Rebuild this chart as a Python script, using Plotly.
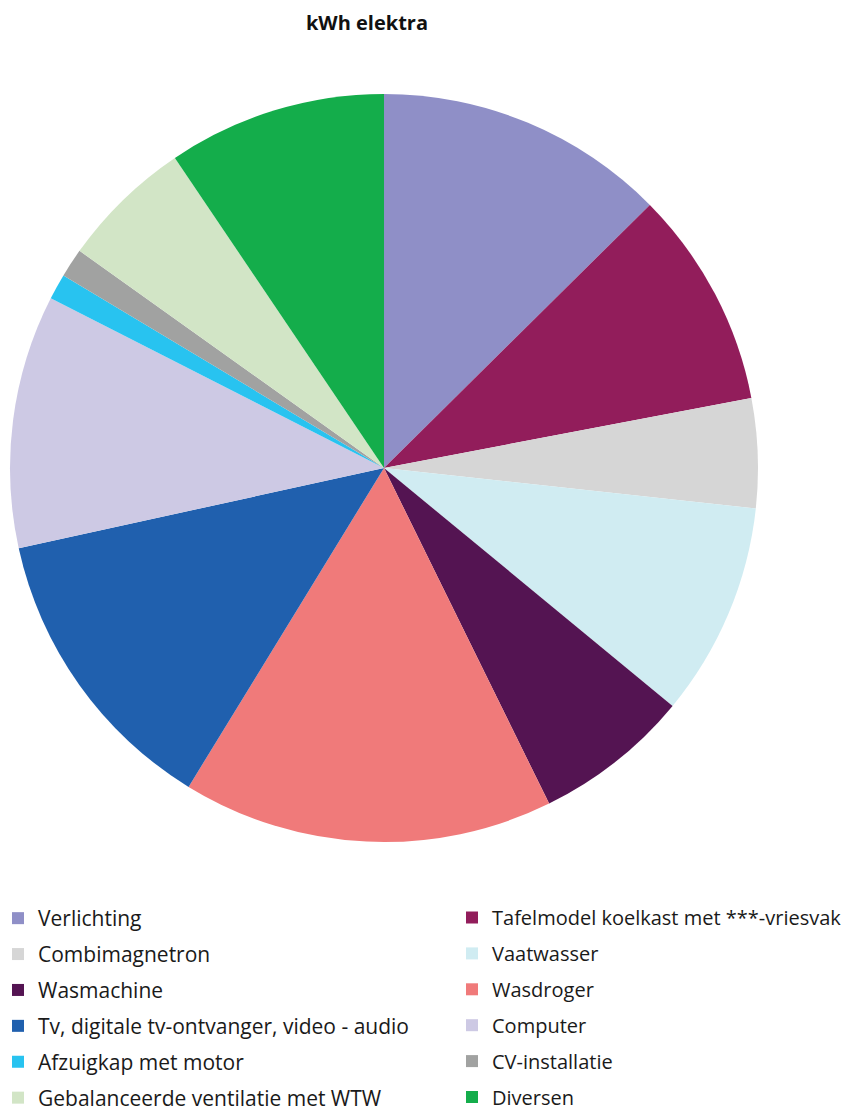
import plotly.graph_objects as go

categories = [
    "Verlichting",
    "Tafelmodel koelkast met ***-vriesvak",
    "Combimagnetron",
    "Vaatwasser",
    "Wasmachine",
    "Wasdroger",
    "Tv, digitale tv-ontvanger, video - audio",
    "Computer",
    "Afzuigkap met motor",
    "CV-installatie",
    "Gebalanceerde ventilatie met WTW",
    "Diversen",
]
kwh = [453, 339, 170, 333, 243, 577, 461, 394, 40, 45, 205, 340]
colors = [
    "#8F8FC7", "#921D5B", "#D6D6D6", "#D0ECF2", "#541452", "#F07A7A",
    "#2060AE", "#CDC9E4", "#28C3F0", "#A1A2A1", "#D2E5C6", "#14AD4B",
]

# The page body has an 8px default margin, so the figure is 16px smaller than the window
W, H = 845, 1105
cx, cy, r = 376, 460, 374

fig = go.Figure()
fig.add_trace(go.Pie(
    labels=categories,
    values=kwh,
    marker=dict(colors=colors, line=dict(width=0)),
    sort=False,
    direction="clockwise",
    rotation=0,
    textinfo="none",
    hoverinfo="label+value+percent",
    showlegend=False,
    domain=dict(x=[(cx - r) / W, (cx + r) / W], y=[1 - (cy + r) / H, 1 - (cy - r) / H]),
))

# Legend entries (two columns: left, right, left, right ...)
for i, (lab, col) in enumerate(zip(categories, colors)):
    fig.add_trace(go.Scatter(
        x=[None], y=[None], mode="markers", name=lab,
        marker=dict(symbol="square", size=12, color=col),
        legend="legend" if i % 2 == 0 else "legend2",
        legendgroup=lab, showlegend=True, hoverinfo="skip",
    ))

leg_common = dict(
    orientation="v",
    yanchor="top", y=1 - 890 / H,
    xanchor="left",
    itemsizing="constant",
    bgcolor="rgba(0,0,0,0)",
    borderwidth=0,
)

fig.update_layout(
    width=W, height=H,
    margin=dict(l=0, r=0, t=0, b=0, autoexpand=False),
    paper_bgcolor="white",
    plot_bgcolor="white",
    font=dict(family="Open Sans, sans-serif", color="#1a1a1a"),
    title=dict(text="<b>kWh elektra</b>", x=359 / W, xanchor="center", y=1 - 15 / H, yanchor="middle",
               font=dict(size=20, color="#111111")),
    xaxis=dict(visible=False),
    yaxis=dict(visible=False),
    legend=dict(x=-10 / W, font=dict(size=21, family="Open Sans, sans-serif", color="#1a1a1a"),
                tracegroupgap=5.6, **leg_common),
    legend2=dict(x=444 / W, font=dict(size=20, family="Open Sans, sans-serif", color="#1a1a1a"),
                 tracegroupgap=6.9, **leg_common),
)

fig.write_html("out.html")
